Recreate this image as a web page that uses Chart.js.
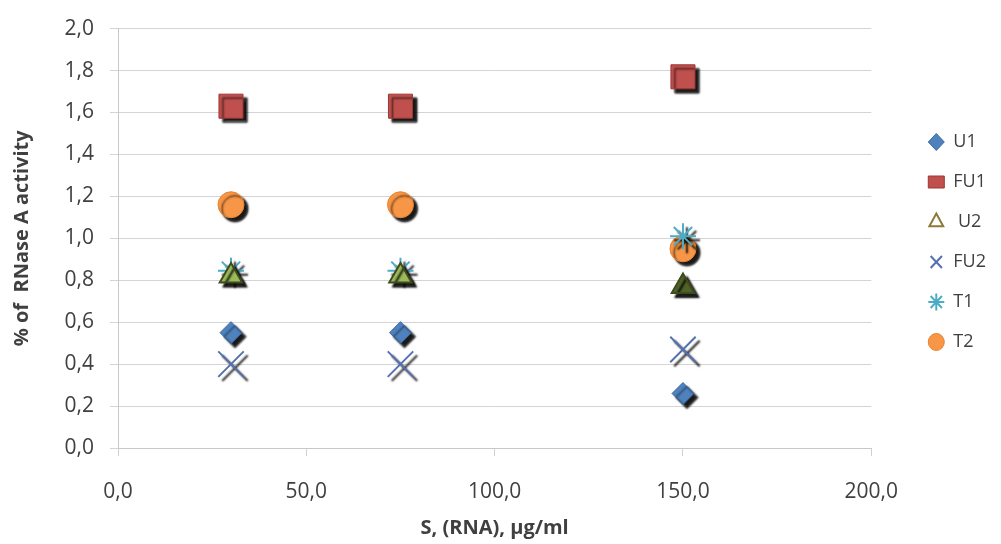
<!DOCTYPE html>
<html lang="en">
<head>
    <meta charset="UTF-8">
    <title>RNase A activity</title>
    <script src="https://cdn.jsdelivr.net/npm/chart.js"></script>
    <style>
        html, body { margin: 0; padding: 0; background: #fff; }
        #wrap { width: 1001px; height: 544px; }
    </style>
</head>
<body>
    <div id="wrap"><canvas id="chart" width="1001" height="544"></canvas></div>

    <script>
        // concentrations, µg/ml
        const concentrations = [30, 75, 150];

        // % of RNase A activity per series
        const seriesNames = ['U1', 'FU1', ' U2', 'FU2', 'T1', 'T2'];
        const u1  = [0.55, 0.55, 0.26];
        const fu1 = [1.63, 1.63, 1.77];
        const u2  = [0.82, 0.82, 0.77];
        const fu2 = [0.40, 0.40, 0.47];
        const t1  = [0.845, 0.845, 1.01];
        const t2  = [1.16, 1.16, 0.95];

        const yTicks = [0, 0.2, 0.4, 0.6, 0.8, 1.0, 1.2, 1.4, 1.6, 1.8, 2.0];
        const xTicks = [0, 50, 100, 150, 200];

        function pts(vals) {
            return vals.map((v, i) => ({ x: concentrations[i], y: v }));
        }

        const fmt = v => v.toFixed(1).replace('.', ',');

        // little drop shadow under the markers, like the original
        const shadowPlugin = {
            id: 'shadow',
            beforeDatasetsDraw(chart) {
                const ctx = chart.ctx;
                ctx.save();
                ctx.shadowColor = 'rgba(0,0,0,0.9)';
                ctx.shadowOffsetX = 4;
                ctx.shadowOffsetY = 4;
                ctx.shadowBlur = 2;
            },
            afterDatasetsDraw(chart) {
                chart.ctx.restore();
            }
        };

        // the legend sits a bit higher and further left in the original
        const legendShift = {
            id: 'legendShift',
            afterLayout(chart) {
                const lg = chart.legend;
                lg.top -= 41; lg.bottom -= 41;
                lg.left -= 5; lg.right -= 5;
            }
        };

        const ctx = document.getElementById('chart').getContext('2d');
        new Chart(ctx, {
            type: 'scatter',
            data: {
                datasets: [
                    { label: seriesNames[0], data: pts(u1), pointStyle: 'rectRot', radius: 11,
                      backgroundColor: '#4F81BD', borderColor: '#3A6AA6', borderWidth: 1 },
                    { label: seriesNames[1], data: pts(fu1), pointStyle: 'rect', radius: 17,
                      backgroundColor: '#C0504D', borderColor: '#9E3532', borderWidth: 1 },
                    { label: seriesNames[2], data: pts(u2), pointStyle: 'triangle', radius: 13,
                      backgroundColor: ['#9BBB59', '#9BBB59', '#4F6228'], borderColor: '#3F4A1E', borderWidth: 2 },
                    { label: seriesNames[3], data: pts(fu2), pointStyle: 'crossRot', radius: 18,
                      backgroundColor: '#5470B0', borderColor: '#5470B0', borderWidth: 2 },
                    { label: seriesNames[4], data: pts(t1), pointStyle: 'star', radius: 13,
                      backgroundColor: '#4BACC6', borderColor: '#4BACC6', borderWidth: 2 },
                    { label: seriesNames[5], data: pts(t2), pointStyle: 'circle', radius: 13,
                      backgroundColor: '#F79646', borderColor: '#E8832F', borderWidth: 1 }
                ]
            },
            options: {
                responsive: false,
                animation: false,
                layout: { padding: { top: 22, right: 0, left: 0, bottom: 0 } },
                plugins: {
                    legend: {
                        position: 'right',
                        align: 'center',
                        labels: {
                            usePointStyle: true,
                            pointStyleWidth: 16,
                            boxHeight: 12,
                            padding: 22,
                            color: '#404040',
                            font: { family: 'Open Sans', size: 18 },
                            generateLabels(chart) {
                                const items = Chart.defaults.plugins.legend.labels.generateLabels(chart);
                                items.forEach(it => {
                                    it.lineWidth = 1;
                                    if (it.pointStyle === 'triangle') {
                                        it.fillStyle = '#ffffff';
                                        it.strokeStyle = '#8C7A3A';
                                        it.lineWidth = 2;
                                    }
                                    if (it.pointStyle === 'crossRot' || it.pointStyle === 'star') it.lineWidth = 2;
                                });
                                return items;
                            }
                        }
                    },
                    tooltip: { enabled: false }
                },
                scales: {
                    x: {
                        type: 'linear',
                        min: 0,
                        max: 200,
                        afterBuildTicks(axis) { axis.ticks = xTicks.map(v => ({ value: v })); },
                        afterFit(axis) { axis.height = 96; },
                        grid: { display: true, drawOnChartArea: false, drawTicks: true, tickLength: 8, color: '#d0d0d0' },
                        border: { display: true, color: '#c8c8c8' },
                        ticks: {
                            color: '#404040',
                            padding: 23,
                            font: { family: 'Open Sans', size: 21 },
                            callback: fmt
                        },
                        title: {
                            display: true,
                            text: 'S, (RNA), µg/ml',
                            color: '#404040',
                            font: { family: 'Open Sans', size: 20, weight: 'bold' },
                            padding: { top: 4, bottom: 4 }
                        }
                    },
                    y: {
                        min: 0,
                        max: 2,
                        afterBuildTicks(axis) { axis.ticks = yTicks.map(v => ({ value: v })); },
                        afterFit(axis) { axis.width = 118; },
                        grid: { color: '#d4d4d4', tickLength: 8 },
                        border: { display: true, color: '#c8c8c8' },
                        ticks: {
                            color: '#404040',
                            padding: 16,
                            font: { family: 'Open Sans', size: 21 },
                            callback: fmt
                        },
                        title: {
                            display: true,
                            text: '% of  RNase A activity',
                            color: '#404040',
                            font: { family: 'Open Sans', size: 20, weight: 'bold' },
                            padding: { top: 10, bottom: 0 }
                        }
                    },
                    gap: {
                        type: 'linear',
                        position: 'right',
                        display: true,
                        afterFit(axis) { axis.width = 40; },
                        grid: { display: false },
                        border: { display: false },
                        ticks: { display: false }
                    }
                }
            },
            plugins: [shadowPlugin, legendShift]
        });
    </script>
</body>
</html>
